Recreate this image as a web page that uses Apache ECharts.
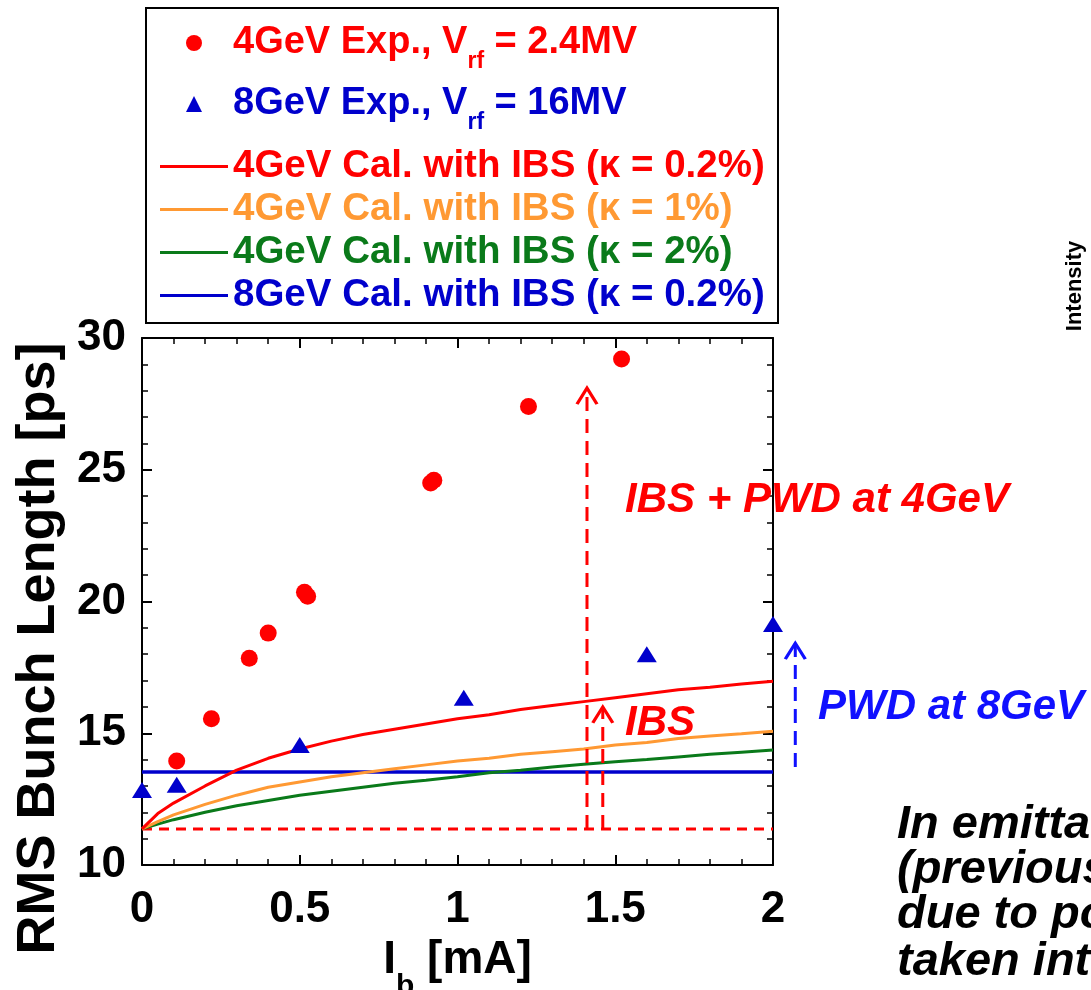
<!DOCTYPE html>
<html><head><meta charset="utf-8">
<script src="https://cdn.jsdelivr.net/npm/echarts@6/dist/echarts.min.js"></script>
<style>html,body{margin:0;padding:0;background:#fff}#c{width:1091px;height:990px}</style>
</head><body><div id="c"></div><script>
// ---- data ----
const exp4X = [0.11, 0.22, 0.34, 0.40, 0.515, 0.525, 0.915, 0.925, 1.225, 1.52];
const exp4Y = [13.95, 15.55, 17.85, 18.8, 20.35, 20.2, 24.5, 24.6, 27.4, 29.2];
const exp8X = [0, 0.11, 0.5, 1.02, 1.6, 2.0];
const exp8Y = [12.85, 13.05, 14.55, 16.35, 18.0, 19.15];
const calcX = [0, 0.05, 0.1, 0.2, 0.3, 0.4, 0.5, 0.6, 0.7, 0.8, 0.9, 1.0, 1.1, 1.2, 1.3, 1.4, 1.5, 1.6, 1.7, 1.8, 1.9, 2.0];
const cal4k02 = [11.37, 11.95, 12.35, 13.0, 13.6, 14.05, 14.4, 14.7, 14.95, 15.15, 15.35, 15.55, 15.7, 15.9, 16.05, 16.2, 16.35, 16.5, 16.65, 16.75, 16.87, 16.97];
const cal4k1 = [11.37, 11.65, 11.9, 12.3, 12.65, 12.95, 13.15, 13.35, 13.5, 13.65, 13.8, 13.95, 14.05, 14.2, 14.3, 14.4, 14.55, 14.65, 14.8, 14.9, 14.98, 15.08];
const cal4k2 = [11.37, 11.55, 11.72, 12.0, 12.25, 12.45, 12.65, 12.8, 12.95, 13.1, 13.22, 13.35, 13.5, 13.6, 13.72, 13.82, 13.92, 14.0, 14.1, 14.2, 14.28, 14.36];
const cal8X = [0, 2];
const cal8k02 = [13.53, 13.53];
const baseX = [0, 2];
const baseY = [11.37, 11.37];
const arrowX = [1.41, 1.46, 2.07];
const arrowFrom = [11.37, 11.37, 13.72];
const arrowTo = [28.1, 16.0, 18.42];
const arrowColor = ['#ff0000', '#ff0000', '#1010ff'];
const xTicks = ['0', '0.5', '1', '1.5', '2'];
const yTicks = ['10', '15', '20', '25', '30'];
const seriesNames = ['4GeV Exp.', '8GeV Exp.', '4GeV Cal. k0.2', '4GeV Cal. k1', '4GeV Cal. k2', '8GeV Cal. k0.2'];
const legendTexts = [
  ['4GeV Exp., V', 'rf', ' = 2.4MV'],
  ['8GeV Exp., V', 'rf', ' = 16MV'],
  ['4GeV Cal. with IBS (κ = 0.2%)'],
  ['4GeV Cal. with IBS (κ = 1%)'],
  ['4GeV Cal. with IBS (κ = 2%)'],
  ['8GeV Cal. with IBS (κ = 0.2%)']
];
const colors = ['#ff0000', '#0000cc', '#ff0000', '#ff9933', '#0a7a1a', '#0000cc'];

const FONT = '"Liberation Sans", Arial, sans-serif';
const zip = (xs, ys) => xs.map((x, i) => [x, ys[i]]);

const chevron = 'path://M0,16 L10,0 L20,16';
const arrowSeries = arrowX.map((x, i) => ({
  type: 'line', name: 'arrow' + i, clip: false, silent: true, z: 4,
  xAxisIndex: 2, yAxisIndex: 2,
  data: [
    { value: [x, arrowFrom[i]], symbol: 'none' },
    { value: [x, arrowTo[i]], symbol: chevron, symbolSize: [20, 16], symbolOffset: [0, 8] }
  ],
  showSymbol: true,
  lineStyle: { color: arrowColor[i], width: 3, type: [14, 8] },
  itemStyle: { color: 'rgba(0,0,0,0)', borderColor: arrowColor[i], borderWidth: 3 }
}));

const richA = { sp: { width: 26 } };
const richB = {};
colors.forEach((c, i) => {
  richA['n' + i] = { fontSize: 38, fontWeight: 'bold', fontFamily: FONT, color: c, lineHeight: 60, verticalAlign: 'middle' };
  richA['s' + i] = { fontSize: 23, fontWeight: 'bold', fontFamily: FONT, color: c, lineHeight: 23, verticalAlign: 'bottom' };
  richB['n' + i] = { fontSize: 38.5, fontWeight: 'bold', fontFamily: FONT, color: c, lineHeight: 43, verticalAlign: 'middle' };
});
const legendFormatter = name => {
  const i = seriesNames.indexOf(name);
  const t = legendTexts[i];
  if (t.length === 1) return '{n' + i + '|' + t[0] + '}';
  return '{sp|}{n' + i + '|' + t[0] + '}{s' + i + '|' + t[1] + '}{n' + i + '|' + t[2] + '}';
};

const axisCommon = {
  type: 'value',
  axisLine: { show: true, onZero: false, lineStyle: { color: '#000', width: 2 } },
  axisTick: { show: true, inside: true, length: 10, lineStyle: { color: '#000', width: 2 } },
  minorTick: { show: true, splitNumber: 5, length: 6, lineStyle: { color: '#000', width: 1.5 } },
  splitLine: { show: false }
};

const option = {
  animation: false,
  backgroundColor: '#fff',
  grid: [
    { left: 142, right: 318, top: 338, bottom: 125, outerBoundsMode: 'none', containLabel: false },
    { left: 142, right: 160, top: 338, bottom: 125, outerBoundsMode: 'none', containLabel: false, show: false }
  ],
  xAxis: [
    Object.assign({}, axisCommon, {
      min: 0, max: 2, interval: 0.5, position: 'bottom',
      axisLabel: { fontSize: 44, fontWeight: 'bold', fontFamily: FONT, color: '#000', margin: 23,
        formatter: v => xTicks[Math.round(v / 0.5)] },
      name: '{n|I}{s|b}{n| [mA]}', nameLocation: 'middle', nameGap: 41,
      nameTextStyle: { rich: {
        n: { fontSize: 46, fontWeight: 'bold', fontFamily: FONT, color: '#000', lineHeight: 84, verticalAlign: 'middle' },
        s: { fontSize: 30, fontWeight: 'bold', fontFamily: FONT, color: '#000', lineHeight: 30, verticalAlign: 'bottom' } } }
    }),
    Object.assign({}, axisCommon, { min: 0, max: 2, interval: 0.5, position: 'top', axisLabel: { show: false } }),
    { type: 'value', gridIndex: 1, min: 0, max: 2.5, show: false }
  ],
  yAxis: [
    Object.assign({}, axisCommon, {
      min: 10, max: 30, interval: 5, position: 'left',
      axisLabel: { fontSize: 44, fontWeight: 'bold', fontFamily: FONT, color: '#000', margin: 16,
        formatter: v => yTicks[Math.round((v - 10) / 5)] },
      name: 'RMS Bunch Length [ps]', nameLocation: 'middle', nameGap: 74, nameRotate: 90,
      nameTextStyle: { fontSize: 54, fontWeight: 'bold', fontFamily: FONT, color: '#000', padding: [0, 94, 0, 0] }
    }),
    Object.assign({}, axisCommon, { min: 10, max: 30, interval: 5, position: 'right', axisLabel: { show: false } }),
    { type: 'value', gridIndex: 1, min: 10, max: 30, show: false }
  ],
  legend: [
    { orient: 'vertical', left: 186, top: 24, padding: 0, itemGap: 12, itemWidth: 16, itemHeight: 16, z: 10,
      data: [seriesNames[0], seriesNames[1]], formatter: legendFormatter, textStyle: { rich: richA } },
    { orient: 'vertical', left: 160, top: 147, padding: 0, itemGap: 4, itemWidth: 68, itemHeight: 3, z: 10,
      data: seriesNames.slice(2).map(n => ({ name: n, icon: 'rect' })), formatter: legendFormatter,
      textStyle: { rich: richB } }
  ],
  graphic: [
    { type: 'rect', z: 1, silent: true, shape: { x: 146, y: 8, width: 632, height: 315 }, style: { fill: '#fff', stroke: '#000', lineWidth: 2 } },
    { type: 'text', z: 5, x: 625, y: 500, style: { text: 'IBS + PWD at 4GeV', font: 'italic bold 42px ' + FONT, fill: '#ff0000', verticalAlign: 'middle' } },
    { type: 'text', z: 5, x: 625, y: 723, style: { text: 'IBS', font: 'italic bold 42px ' + FONT, fill: '#ff0000', verticalAlign: 'middle' } },
    { type: 'text', z: 5, x: 818, y: 707, style: { text: 'PWD at 8GeV', font: 'italic bold 42px ' + FONT, fill: '#1010ff', verticalAlign: 'middle' } },
    { type: 'text', z: 5, x: 897, y: 825, style: { text: 'In emittance measurement', font: 'italic bold 47px ' + FONT, fill: '#000', verticalAlign: 'middle' } },
    { type: 'text', z: 5, x: 897, y: 870, style: { text: '(previously measured)', font: 'italic bold 47px ' + FONT, fill: '#000', verticalAlign: 'middle' } },
    { type: 'text', z: 5, x: 897, y: 915, style: { text: 'due to potential well', font: 'italic bold 47px ' + FONT, fill: '#000', verticalAlign: 'middle' } },
    { type: 'text', z: 5, x: 897, y: 962, style: { text: 'taken into account', font: 'italic bold 47px ' + FONT, fill: '#000', verticalAlign: 'middle' } },
    { type: 'text', z: 5, x: 1075, y: 286, rotation: Math.PI / 2, style: { text: 'Intensity', font: 'bold 22px ' + FONT, fill: '#000', align: 'center', verticalAlign: 'middle' } }
  ],
  series: [
    { type: 'line', name: 'baseline', data: zip(baseX, baseY), symbol: 'none', z: 3,
      lineStyle: { color: '#ff0000', width: 3, type: [10, 7] } },
    { type: 'line', name: seriesNames[5], data: zip(cal8X, cal8k02), symbol: 'none', z: 3,
      lineStyle: { color: colors[5], width: 3.5 }, itemStyle: { color: colors[5] } },
    { type: 'line', name: seriesNames[4], data: zip(calcX, cal4k2), symbol: 'none', z: 3,
      lineStyle: { color: colors[4], width: 3 }, itemStyle: { color: colors[4] } },
    { type: 'line', name: seriesNames[3], data: zip(calcX, cal4k1), symbol: 'none', z: 3,
      lineStyle: { color: colors[3], width: 3 }, itemStyle: { color: colors[3] } },
    { type: 'line', name: seriesNames[2], data: zip(calcX, cal4k02), symbol: 'none', z: 3,
      lineStyle: { color: colors[2], width: 3 }, itemStyle: { color: colors[2] } },
    ...arrowSeries,
    { type: 'scatter', name: seriesNames[0], data: zip(exp4X, exp4Y), symbol: 'circle', symbolSize: 17, clip: false, z: 6,
      itemStyle: { color: colors[0], opacity: 1 } },
    { type: 'scatter', name: seriesNames[1], data: zip(exp8X, exp8Y), symbol: 'triangle', symbolSize: [20, 16], clip: false, z: 6,
      itemStyle: { color: colors[1], opacity: 1 } }
  ]
};
const chart = echarts.init(document.getElementById('c'), null, { renderer: 'canvas' });
chart.setOption(option);
</script></body></html>
